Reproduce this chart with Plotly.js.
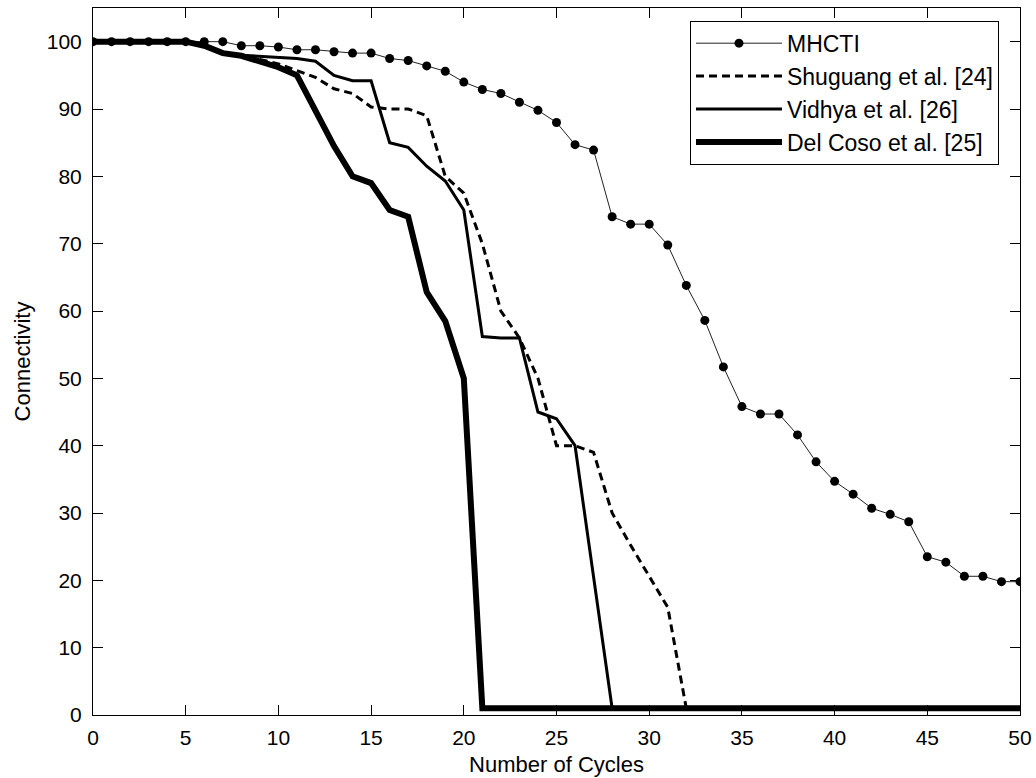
<!DOCTYPE html>
<html>
<head>
<meta charset="utf-8">
<script src="https://cdn.plot.ly/plotly-3.0.1.min.js"></script>
<style>html,body{margin:0;padding:0;background:#fff;}#chart{width:1036px;height:778px;}</style>
</head>
<body>
<div id="chart"></div>
<script>
// Number of cycles (x values)
const cycles = Array.from({length: 51}, (_, i) => i);

// Series values
const mhcti = [100,100,100,100,100,100,100,100,99.4,99.4,99.2,98.8,98.8,98.5,98.3,98.3,
  97.5,97.2,96.4,95.6,94.0,92.9,92.3,91.0,89.8,88.0,84.7,83.9,74.0,72.9,72.9,69.8,63.8,
  58.6,51.7,45.8,44.7,44.7,41.6,37.6,34.7,32.8,30.7,29.8,28.7,23.5,22.7,20.6,20.6,19.8,19.8];

const shuguang = [100,100,100,100,100,100,99.4,98.4,98.0,97.3,96.7,95.7,94.7,93.0,92.3,90.3,
  90,90,89,80,77.5,70,60,56,50,40,40,39,30,25.2,20.5,16,1,1,1,1,1,1,1,1,1,1,1,1,1,1,1,1,1,1,1];

const vidhya = [100,100,100,100,100,100,99.4,98.4,98.0,97.8,97.6,97.5,97.1,95.0,94.2,94.2,
  85,84.3,81.5,79.3,75,56.2,56,56,45,44,40,20.5,1,1,1,1,1,1,1,1,1,1,1,1,1,1,1,1,1,1,1,1,1,1,1];

const delCoso = [100,100,100,100,100,100,99.4,98.3,97.9,97.1,96.2,95,89.8,84.5,80,79,
  75,74,62.8,58.5,50,1,1,1,1,1,1,1,1,1,1,1,1,1,1,1,1,1,1,1,1,1,1,1,1,1,1,1,1,1,1];

const seriesNames = ["MHCTI", "Shuguang et al. [24]", "Vidhya et al. [26]", "Del Coso et al. [25]"];
const xTicks = [0,5,10,15,20,25,30,35,40,45,50];
const yTicks = [0,10,20,30,40,50,60,70,80,90,100];

const FONT = "'Liberation Sans', Arial, sans-serif";

const traces = [
  {x: cycles, y: mhcti, name: seriesNames[0], mode: "lines+markers",
   line: {color: "#222", width: 1}, marker: {color: "#000", size: 9, symbol: "circle"},
   legendgroup: "a"},
  {x: cycles, y: shuguang, name: seriesNames[1], mode: "lines",
   line: {color: "#000", width: 3, dash: "8px,5px"}, legendgroup: "b"},
  {x: cycles, y: vidhya, name: seriesNames[2], mode: "lines",
   line: {color: "#000", width: 3}, legendgroup: "c"},
  {x: cycles, y: delCoso, name: seriesNames[3], mode: "lines",
   line: {color: "#000", width: 6}, legendgroup: "d"}
];

const axisCommon = {
  showgrid: false, zeroline: false, showline: true, linecolor: "#000", linewidth: 1,
  mirror: "allticks", ticks: "inside", ticklen: 10, tickwidth: 1, tickcolor: "#000",
  tickfont: {family: FONT, size: 21, color: "#000"}
};

const layout = {
  width: 1036, height: 778,
  margin: {l: 93, r: 16, t: 8, b: 63},
  paper_bgcolor: "#fff", plot_bgcolor: "#fff",
  font: {family: FONT, color: "#000"},
  showlegend: true,
  xaxis: Object.assign({}, axisCommon, {
    range: [0, 50], tickmode: "array", tickvals: xTicks, ticktext: xTicks.map(String),
    ticklabelstandoff: 4,
    title: {text: "Number of Cycles", font: {family: FONT, size: 22, color: "#000"}, standoff: 8}
  }),
  yaxis: Object.assign({}, axisCommon, {
    range: [0, 105], tickmode: "array", tickvals: yTicks, ticktext: yTicks.map(String),
    ticklabelstandoff: 6,
    title: {text: "Connectivity", font: {family: FONT, size: 22, color: "#000"}, standoff: 10}
  }),
  legend: {
    x: 0.644, y: 0.982, xanchor: "left", yanchor: "top",
    bgcolor: "#fff", bordercolor: "#000", borderwidth: 1,
    font: {family: FONT, size: 23, color: "#000"},
    itemwidth: 86, tracegroupgap: 5, traceorder: "normal"
  }
};

Plotly.newPlot("chart", traces, layout, {displayModeBar: false, staticPlot: true});
</script>
</body>
</html>
